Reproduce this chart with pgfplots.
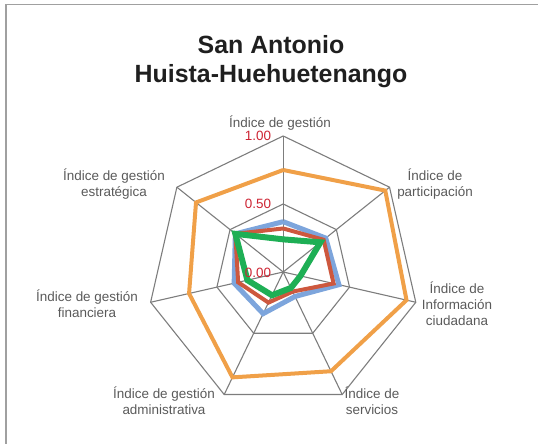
\documentclass[border=0pt]{standalone}
\usepackage{fontspec}
\setmainfont{Liberation Sans}
\usepackage{pgfplots}
\pgfplotsset{compat=1.18}
\usepgfplotslibrary{polar}

\definecolor{cOrange}{RGB}{240,160,72}
\definecolor{cBlue}{RGB}{125,165,220}
\definecolor{cRed}{RGB}{205,88,62}
\definecolor{cGreen}{RGB}{30,175,85}
\definecolor{cGrid}{RGB}{125,125,125}
\definecolor{cLabel}{RGB}{90,90,90}
\definecolor{cTick}{RGB}{205,35,50}
\definecolor{cFrame}{RGB}{160,160,160}

\begin{document}
\begin{tikzpicture}[x=1bp,y=1bp]
\useasboundingbox (0,0) rectangle (538,444);
\draw[cFrame, line width=1.5bp] (6,0) -- (6,439.5) -- (538,439.5);

\begin{polaraxis}[
    at={(283.2bp,172bp)}, anchor=center,
    width=272bp, height=272bp, scale only axis,
    xmin=0, xmax=360, ymin=0, ymax=1,
    hide axis, clip=false,
]
% grid: rings at 0.5 and 1.0, spokes
\addplot[cGrid, line width=1.1bp] coordinates {(90,1) (38.5714,1) (347.1429,1) (295.7143,1) (244.2857,1) (192.8571,1) (141.4286,1) (90,1)};
\addplot[cGrid, line width=1.1bp] coordinates {(90,0.5) (38.5714,0.5) (347.1429,0.5) (295.7143,0.5) (244.2857,0.5) (192.8571,0.5) (141.4286,0.5) (90,0.5)};
\addplot[cGrid, line width=1.1bp] coordinates {(90,0) (90,1)};
\addplot[cGrid, line width=1.1bp] coordinates {(38.5714,0) (38.5714,1)};
\addplot[cGrid, line width=1.1bp] coordinates {(347.1429,0) (347.1429,1)};
\addplot[cGrid, line width=1.1bp] coordinates {(295.7143,0) (295.7143,1)};
\addplot[cGrid, line width=1.1bp] coordinates {(244.2857,0) (244.2857,1)};
\addplot[cGrid, line width=1.1bp] coordinates {(192.8571,0) (192.8571,1)};
\addplot[cGrid, line width=1.1bp] coordinates {(141.4286,0) (141.4286,1)};

% series
\addplot[cOrange, line width=4bp, line join=miter] coordinates {(90,0.75) (38.5714,0.96) (347.1429,0.93) (295.7143,0.81) (244.2857,0.86) (192.8571,0.71) (141.4286,0.82) (90,0.75)};
\addplot[cBlue, line width=5bp, line join=miter] coordinates {(90,0.37) (38.5714,0.40) (347.1429,0.42) (295.7143,0.20) (244.2857,0.34) (192.8571,0.37) (141.4286,0.45) (90,0.37)};
\addplot[cRed, line width=4bp, line join=miter] coordinates {(90,0.32) (38.5714,0.38) (347.1429,0.38) (295.7143,0.16) (244.2857,0.25) (192.8571,0.34) (141.4286,0.45) (90,0.32)};
\addplot[cGreen, line width=6bp, line join=miter] coordinates {(90,0.24) (38.5714,0.35) (347.1429,0.13) (295.7143,0.13) (244.2857,0.19) (192.8571,0.27) (141.4286,0.45) (90,0.24)};
\end{polaraxis}

% title
\node[font=\fontsize{25}{29}\selectfont\bfseries, text=black!88] at (271,399) {San Antonio};
\node[font=\fontsize{25}{29}\selectfont\bfseries, text=black!88] at (271,368) {Huista-Huehuetenango};

% radial tick labels
\node[font=\fontsize{13.5}{15}\selectfont, text=cTick] at (258,308) {1.00};
\node[font=\fontsize{13.5}{15}\selectfont, text=cTick] at (258,240) {0.50};
\node[font=\fontsize{13.5}{15}\selectfont, text=cTick] at (258,171) {0.00};

% category labels
\tikzset{cat/.style={font=\fontsize{13.5}{16}\selectfont, text=cLabel, align=center}}
\node[cat] at (280,321) {Índice de gestión};
\node[cat] at (435,260) {Índice de\\participación};
\node[cat] at (457,140) {Índice de\\Información\\ciudadana};
\node[cat] at (372,43) {Índice de\\servicios};
\node[cat] at (164,43) {Índice de gestión\\administrativa};
\node[cat] at (87,140) {Índice de gestión\\financiera};
\node[cat] at (114,260) {Índice de gestión\\estratégica};
\end{tikzpicture}
\end{document}
